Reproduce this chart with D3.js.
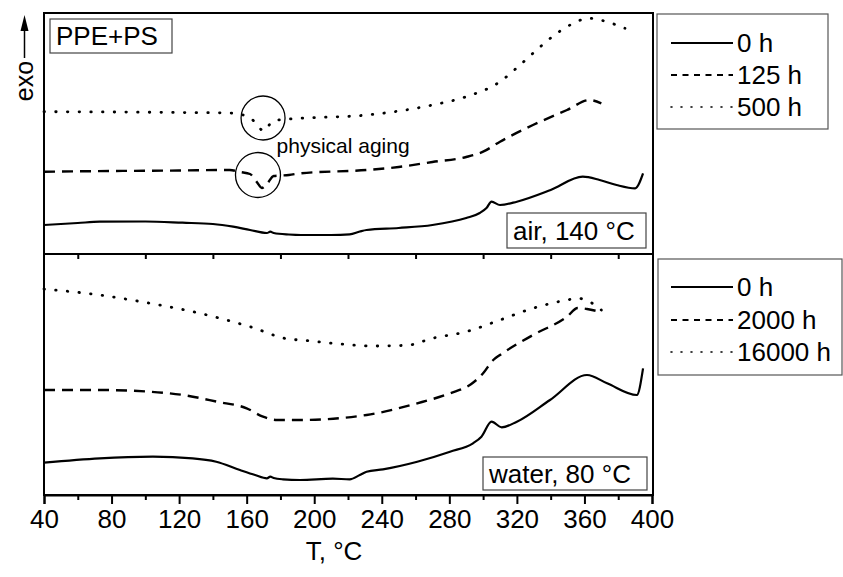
<!DOCTYPE html>
<html><head><meta charset="utf-8">
<script src="https://cdn.jsdelivr.net/npm/d3@7"></script>
<style>body{margin:0;background:#fff}svg{display:block}text{font-family:"Liberation Sans",Arial,sans-serif;fill:#000}</style>
</head><body>
<script>
// ---- data (temperature °C, relative heat flow, exo up, arbitrary units) ----
const xTicks = [40, 80, 120, 160, 200, 240, 280, 320, 360, 400];

const airT0   = [40, 60, 73, 100, 122, 140, 152, 162, 172, 174, 176, 185, 192, 210, 221, 227, 231, 250, 270, 290, 298, 302, 305, 310, 320, 340, 359, 369, 379, 390, 394.7];
const air0    = [29, 31, 32.3, 32.5, 31.3, 30, 27.3, 24, 21, 22.3, 21, 19.5, 19, 19, 19.7, 22.5, 24, 26, 29, 36, 41, 46, 52.3, 49, 52.3, 64, 77.3, 74, 69, 65.7, 80.7];
const airT125 = [40, 80, 120, 150, 156, 162, 166, 169, 172, 176, 185, 192, 231, 250, 270, 290, 300, 310, 329.5, 349.7, 363, 370];
const air125  = [82.3, 83, 83.5, 84, 82, 80, 72, 66, 70, 78, 79, 80.7, 84, 87, 92, 97, 102.3, 112.3, 129, 144, 154, 150.7];
const airT500 = [40, 80, 120, 150, 158, 165, 170, 175.6, 182.7, 191.6, 231, 270, 290, 310, 321.8, 329.5, 341, 349.7, 363, 371, 384];
const air500  = [142.3, 142, 141.5, 141, 139, 132, 123, 133, 134.7, 135.7, 139, 149, 157.3, 172.3, 189, 200.7, 217.3, 227.3, 235.7, 233.3, 225.7];

const watT0     = [40, 73, 104.5, 128, 142, 156, 165, 172, 174, 176, 181.5, 191.6, 211, 221, 227, 231, 240.7, 261, 280.4, 294, 299, 305, 311, 320, 339.6, 361.5, 373.4, 391, 394.7];
const wat0      = [32.3, 36.7, 38.3, 36.7, 33.3, 25, 20, 16.7, 18.3, 17, 15.7, 15, 16.3, 15.7, 20, 23.3, 25.7, 33.3, 43.3, 51.7, 58.3, 73.3, 67.7, 73.3, 95, 120, 111.7, 100, 126.7];
const watT2000  = [40, 73, 102.8, 122.3, 142.4, 160, 169.7, 178, 191.6, 231, 261, 280.4, 293, 300, 306, 310, 329.5, 349.7, 356, 361.5, 369];
const wat2000   = [105, 105, 103.3, 100, 93.3, 86.7, 78.3, 75, 75, 80, 91.7, 101.7, 111, 121.7, 135, 140, 160, 178.3, 187, 186, 183.3];
const watT16000 = [40, 73, 102.8, 132.4, 162, 185.7, 191.6, 211, 234.8, 255, 270, 290, 310, 329.5, 349.7, 356, 363, 370];
const wat16000  = [206, 200, 191.7, 181.7, 168.3, 155.7, 155, 151.7, 149, 149.7, 156.7, 163.3, 175, 186.7, 195, 196.7, 193.3, 185];

const airLabels = ["0 h", "125 h", "500 h"];
const watLabels = ["0 h", "2000 h", "16000 h"];

// ---- layout ----
const W = 843, H = 577;
const L = 44, R = 652, TOP = 13, MID = 254, BOT = 495;
const svg = d3.select("body").append("svg").attr("width", W).attr("height", H);

const x = d3.scaleLinear().domain([40, 400]).range([L, R]);
const yTop = d3.scaleLinear().domain([0, 241]).range([MID, TOP]);
const yBot = d3.scaleLinear().domain([0, 241]).range([BOT, MID]);

const styles = [
  {dash: null, w: 2.2, cap: "butt"},
  {dash: "11,7", w: 2.4, cap: "butt"},
  {dash: "0.5,11.2", w: 2.8, cap: "round"}
];
const legStyles = [
  {dash: null, w: 2, cap: "butt"},
  {dash: "6,5.5", w: 2, cap: "butt"},
  {dash: "1,9", w: 1.6, cap: "round"}
];

function drawSeries(Ts, Vs, yS, st) {
  const pts = Ts.map((t, i) => [t, Vs[i]]);
  const line = d3.line().x(d => x(d[0])).y(d => yS(d[1])).curve(d3.curveMonotoneX);
  const p = svg.append("path").datum(pts).attr("d", line)
    .attr("fill", "none").attr("stroke", "#000").attr("stroke-width", st.w)
    .attr("stroke-linecap", st.cap).attr("stroke-linejoin", "round");
  if (st.dash) p.attr("stroke-dasharray", st.dash);
}

drawSeries(airT0, air0, yTop, styles[0]);
drawSeries(airT125, air125, yTop, styles[1]);
drawSeries(airT500, air500, yTop, styles[2]);
drawSeries(watT0, wat0, yBot, styles[0]);
drawSeries(watT2000, wat2000, yBot, styles[1]);
drawSeries(watT16000, wat16000, yBot, styles[2]);

// frames
svg.append("rect").attr("x", L).attr("y", TOP).attr("width", R - L + 1).attr("height", MID - TOP)
  .attr("fill", "none").attr("stroke", "#000").attr("stroke-width", 2);
svg.append("rect").attr("x", L).attr("y", MID).attr("width", R - L + 1).attr("height", BOT - MID)
  .attr("fill", "none").attr("stroke", "#000").attr("stroke-width", 2);

// bottom axis
const axMajor = svg.append("g").attr("transform", `translate(0,${BOT})`)
  .call(d3.axisBottom(x).tickValues(xTicks).tickSize(9).tickPadding(6).tickFormat(d3.format("d")));
axMajor.select(".domain").attr("stroke-width", 2);
axMajor.selectAll(".tick line").attr("stroke-width", 2);
axMajor.selectAll(".tick text").attr("font-size", 26).attr("font-family", "Liberation Sans, Arial, sans-serif").attr("fill", "#000");
const axMinor = svg.append("g").attr("transform", `translate(0,${BOT})`)
  .call(d3.axisBottom(x).tickValues(d3.range(60, 400, 40)).tickSize(5).tickFormat(""));
axMinor.select(".domain").remove();
axMinor.selectAll(".tick line").attr("stroke-width", 2);
// ticks at the panel boundary
const axMid = svg.append("g").attr("transform", `translate(0,${MID})`)
  .call(d3.axisBottom(x).tickValues(d3.range(60, 400, 40)).tickSize(5).tickFormat(""));
axMid.select(".domain").remove();
axMid.selectAll(".tick line").attr("stroke-width", 2);

svg.append("text").attr("x", 334).attr("y", 560).attr("text-anchor", "middle")
  .attr("font-size", 26).text("T, °C");

// exo arrow
svg.append("line").attr("x1", 24.5).attr("x2", 24.5).attr("y1", 58).attr("y2", 28)
  .attr("stroke", "#000").attr("stroke-width", 1.5);
svg.append("path").attr("d", "M24.5,15 L20.5,31 L28.5,31 Z").attr("fill", "#000");
svg.append("text").attr("transform", "translate(33,81) rotate(-90)").attr("text-anchor", "middle")
  .attr("font-size", 25).text("exo");

// annotation boxes
function boxLabel(x0, y0, w, h, txt) {
  svg.append("rect").attr("x", x0).attr("y", y0).attr("width", w).attr("height", h)
    .attr("fill", "#fff").attr("stroke", "#444").attr("stroke-width", 1.2);
  svg.append("text").attr("x", x0 + 6).attr("y", y0 + h / 2).attr("dy", "0.36em")
    .attr("font-size", 26).text(txt);
}
boxLabel(50, 19, 122, 34, "PPE+PS");
boxLabel(507, 213, 139, 35, "air, 140 °C");
boxLabel(483, 457, 164, 33, "water, 80 °C");

// physical aging circles
svg.append("circle").attr("cx", x(169.7)).attr("cy", yTop(136)).attr("r", 22)
  .attr("fill", "none").attr("stroke", "#000").attr("stroke-width", 1.3);
svg.append("circle").attr("cx", x(166.7)).attr("cy", yTop(79)).attr("r", 22.5)
  .attr("fill", "none").attr("stroke", "#000").attr("stroke-width", 1.3);
svg.append("text").attr("x", x(177.7)).attr("y", yTop(109)).attr("dy", "0.36em")
  .attr("font-size", 21).text("physical aging");

// legends
function legend(x0, y0, w, h, ys, labels) {
  svg.append("rect").attr("x", x0).attr("y", y0).attr("width", w).attr("height", h)
    .attr("fill", "#fff").attr("stroke", "#555").attr("stroke-width", 1.2);
  labels.forEach((lab, i) => {
    const st = legStyles[i];
    const ln = svg.append("line").attr("x1", 671).attr("x2", 733).attr("y1", ys[i]).attr("y2", ys[i])
      .attr("stroke", "#000").attr("stroke-width", st.w).attr("stroke-linecap", st.cap);
    if (st.dash) ln.attr("stroke-dasharray", st.dash);
    svg.append("text").attr("x", 737).attr("y", ys[i]).attr("dy", "0.36em")
      .attr("font-size", 26).text(lab);
  });
}
legend(657, 14, 171, 115, [43, 75, 107], airLabels);
legend(658, 259, 184, 116, [287, 320, 352], watLabels);
</script>
</body></html>
